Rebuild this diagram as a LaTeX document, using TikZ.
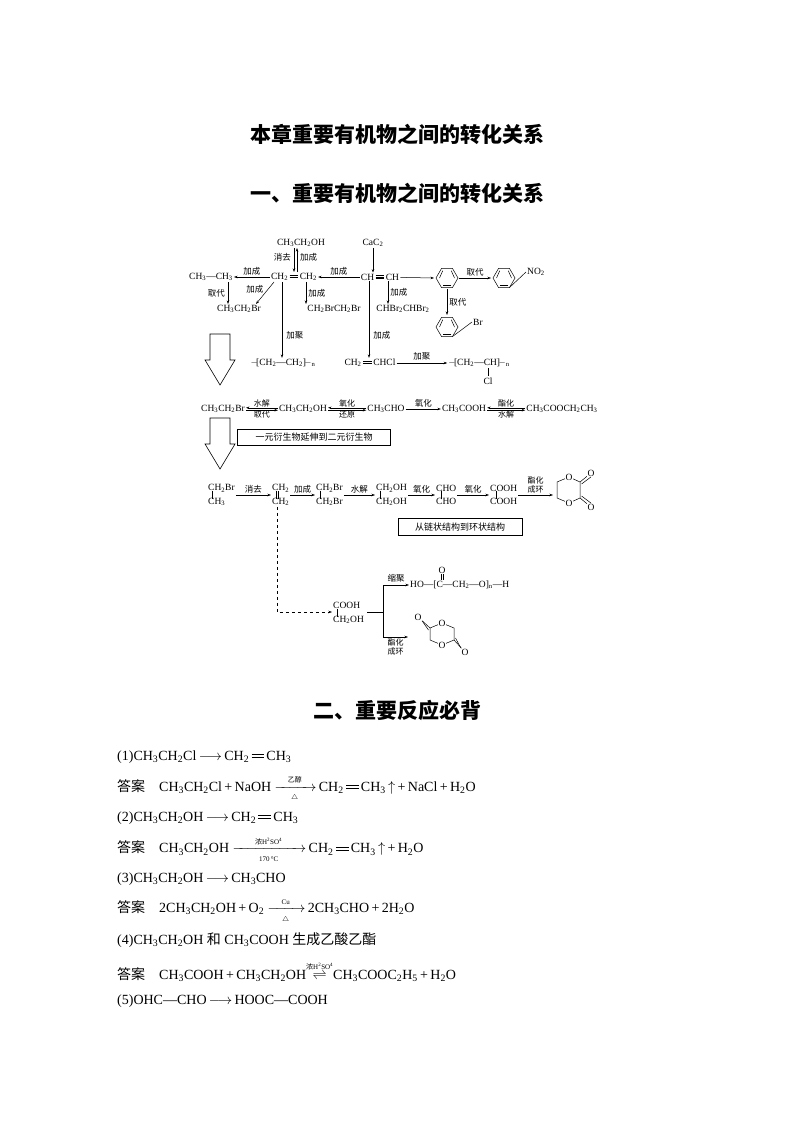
\documentclass[tikz,border=0pt]{standalone}
\usepackage{amsmath}
\usepackage{fontspec}
\setmainfont{Liberation Serif}
\newfontfamily\zhf{Noto Sans CJK SC}
\newcommand\zh[1]{{\zhf #1}}
\newcommand\Sb[1]{\textsubscript{#1}}
\newcommand\dbl{\mbox{\,\rlap{\raisebox{0.2em}{\rule{0.9em}{0.45pt}}}\raisebox{0.4em}{\rule{0.9em}{0.45pt}}\,}}
\newcommand\tpl{\mbox{\,\rlap{\raisebox{0.16em}{\rule{0.9em}{0.4pt}}}\rlap{\raisebox{0.32em}{\rule{0.9em}{0.4pt}}}\raisebox{0.48em}{\rule{0.9em}{0.4pt}}\,}}
\newcommand\rx[3]{\ensuremath{\xrightarrow[{\makebox[#3]{\scriptsize #2}}]{{\makebox[#3]{\scriptsize #1}}}}}
\usetikzlibrary{arrows.meta,calc}
\begin{document}
\begin{tikzpicture}[x=1pt,y=-1pt,
  ch/.style={inner sep=1pt,font=\fontsize{9.5}{10.5}\selectfont},
  lab/.style={inner sep=1pt,font=\fontsize{8.5}{9}\selectfont\zhf},
  arr/.style={-{Stealth[length=3.5pt,width=2.5pt]},line width=0.5pt},
  ln/.style={line width=0.5pt},
  txt/.style={anchor=west,inner sep=0pt,font=\fontsize{14}{16}\selectfont},
  ttl/.style={inner sep=0pt,font=\fontsize{21}{24}\selectfont\zhf\bfseries},
  hollow/.style={draw,line width=0.6pt,fill=white}]
\useasboundingbox (0,0) rectangle (794,1123);
% titles
\node[ttl] (t1) at (397,134) {本章重要有机物之间的转化关系};
\node[ttl] (t2) at (397,193) {一、重要有机物之间的转化关系};
\node[ttl] (t3) at (397,710) {二、重要反应必背};

% ---------- top block ----------
\node[ch] (etoh) at (301,243) {CH\Sb3CH\Sb2OH};
\node[ch] (cac2) at (373,243) {CaC\Sb2};
\node[ch] (ethane) at (211,277) {CH\Sb3—CH\Sb3};
\node[ch] (ethene) at (294,277) {CH\Sb2\dbl CH\Sb2};
\node[ch] (ethyne) at (380,277) {CH\tpl CH};
\node[ch] (etbr) at (239,309) {CH\Sb3CH\Sb2Br};
\node[ch] (dibr) at (334,309) {CH\Sb2BrCH\Sb2Br};
\node[ch] (tetbr) at (403,309) {CHBr\Sb2CHBr\Sb2};
\node[ch] (pe) at (283,363) {$-\!$[CH\Sb2—CH\Sb2]$\!-$\Sb{n}};
\node[ch] (vc) at (370,363) {CH\Sb2\dbl CHCl};
\node[ch] (pvc) at (479,363) {$-\!$[CH\Sb2—CH]$\!-$\Sb{n}};
\node[ch] (pvccl) at (488,381) {Cl};
\draw[ln] (488,368) -- (pvccl);
% benzene rings
\coordinate (bz) at (447,278);
\coordinate (nb) at (504,278);
\coordinate (bb) at (447,327);
\foreach \c in {bz,nb,bb}{
  \draw[ln] ($(\c)+(0:11)$) -- ($(\c)+(60:11)$) -- ($(\c)+(120:11)$) -- ($(\c)+(180:11)$) -- ($(\c)+(240:11)$) -- ($(\c)+(300:11)$) -- cycle;
  \draw[ln] ($(\c)+(60:8.5)$) -- ($(\c)+(120:8.5)$);
  \draw[ln] ($(\c)+(180:8.5)+(1,0)$) -- ($(\c)+(240:8.5)$);
  \draw[ln] ($(\c)+(300:8.5)$) -- ($(\c)+(0:8.5)-(1,0)$);
}
\node[ch,anchor=west] (no2) at (526,272) {NO\Sb2};
\draw[ln] ($(nb)+(60:11)$) -- (no2.west);
\node[ch,anchor=west] (br) at (472,322) {Br};
\draw[ln] ($(bb)+(60:11)$) -- (br.west);

% arrows top
\draw[arr] (cac2) -- (ethyne.north -| cac2);
\draw[arr] (etoh.south -| 294,0) -- (ethene.north -| 294,0);
\draw[arr] (ethene.north -| 297,0) -- (etoh.south -| 297,0);
\node[lab,anchor=east] at (292,257) {消去};
\node[lab,anchor=west] at (299,257) {加成};
\draw[arr] (ethene) -- node[lab,above=0.5pt]{加成} (ethane);
\draw[arr] (ethyne) -- node[lab,above=0.5pt]{加成} (ethene);
\draw[arr] (ethyne) -- ($(bz)+(-13,0)$);
\draw[arr] ($(bz)+(12,0)$) -- node[lab,above=0.5pt]{取代} ($(nb)+(-13,0)$);
\draw[arr] ($(bz)+(0,11)$) -- node[lab,right=1pt]{取代} ($(bb)+(0,-12)$);
\draw[arr] (ethane.south -| 228,0) -- node[lab,left=2pt]{取代} (etbr.north -| 228,0);
\draw[arr] (ethene.south -| 274,0) -- node[lab,left=3pt,pos=0.35]{加成} (etbr.north -| 256,0);
\draw[arr] (ethene.south -| 306,0) -- node[lab,right=1pt]{加成} (dibr.north -| 306,0);
\draw[arr] (ethyne.south -| 388,0) -- node[lab,right=1pt]{加成} (tetbr.north -| 388,0);
\draw[arr] (ethene.south -| 282,0) -- node[lab,right=3pt,pos=0.7]{加聚} (pe.north -| 282,0);
\draw[arr] (ethyne.south -| 369,0) -- node[lab,right=3pt,pos=0.7]{加成} (vc.north -| 369,0);
\draw[arr] (vc) -- node[lab,above=1pt]{加聚} (pvc);

% hollow arrows
\draw[hollow] (210,334) -- (230,334) -- (230,360) -- (235,360) -- (220,385) -- (205,360) -- (210,360) -- cycle;
\draw[hollow] (210,418) -- (230,418) -- (230,444) -- (235,444) -- (220,469) -- (205,444) -- (210,444) -- cycle;

% row 2
\node[ch] (r1) at (223,409) {CH\Sb3CH\Sb2Br};
\node[ch] (r2) at (303,409) {CH\Sb3CH\Sb2OH};
\node[ch] (r3) at (386,409) {CH\Sb3CHO};
\node[ch] (r4) at (464,409) {CH\Sb3COOH};
\node[ch] (r5) at (562,409) {CH\Sb3COOCH\Sb2CH\Sb3};
\foreach \a/\b/\u/\d in {r1/r2/水解/取代, r2/r3/氧化/还原, r4/r5/酯化/水解}{
  \draw[arr] ([yshift=-1.2]\a.east) -- node[lab,above=1.5pt,font=\fontsize{8}{8.5}\selectfont\zhf]{\u} ([yshift=-1.2]\b.west);
  \draw[arr] ([yshift=1.2]\b.west) -- node[lab,below=1.5pt,font=\fontsize{8}{8.5}\selectfont\zhf]{\d} ([yshift=1.2]\a.east);
}
\draw[arr] (r3) -- node[lab,above=1pt]{氧化} (r4);
\node[draw,line width=0.5pt,lab,font=\fontsize{9}{10}\selectfont\zhf,minimum width=153pt,minimum height=16pt] (box1) at (314,437) {一元衍生物延伸到二元衍生物};

% row 3
\node[ch,anchor=west,align=left] (s1) at (207,495) {CH\Sb2Br\\[3pt]CH\Sb3};
\node[ch,anchor=west,align=left] (s2) at (271,495) {CH\Sb2\\[3pt]CH\Sb2};
\node[ch,anchor=west,align=left] (s3) at (315,495) {CH\Sb2Br\\[3pt]CH\Sb2Br};
\node[ch,anchor=west,align=left] (s4) at (375,495) {CH\Sb2OH\\[3pt]CH\Sb2OH};
\node[ch,anchor=west,align=left] (s5) at (435,495) {CHO\\[3pt]CHO};
\node[ch,anchor=west,align=left] (s6) at (489,495) {COOH\\[3pt]COOH};
\draw[ln] (212,491) -- (212,499);
\draw[ln] (276,491) -- (276,499); \draw[ln] (278,491) -- (278,499);
\draw[ln] (320,491) -- (320,499);
\draw[ln] (380,491) -- (380,499);
\draw[ln] (441,491) -- (441,499);
\draw[ln] (496,491) -- (496,499);
\draw[arr] (s1) -- node[lab,above=1pt]{消去} (s2);
\draw[arr] (s2) -- node[lab,above=1pt]{加成} (s3);
\draw[arr] (s3) -- node[lab,above=1pt]{水解} (s4);
\draw[arr] (s4) -- node[lab,above=1pt]{氧化} (s5);
\draw[arr] (s5) -- node[lab,above=1pt]{氧化} (s6);
% ring 1
\node[ch,inner sep=0.5pt] (o1) at (569,477) {O};
\node[ch,inner sep=0.5pt] (o2) at (569,503) {O};
\node[ch,inner sep=0.5pt] (o3) at (591,473) {O};
\node[ch,inner sep=0.5pt] (o4) at (591,507) {O};
\coordinate (ring1in) at (553,495);
\draw[ln] (o1) -- (557,482) -- (557,498) -- (o2) -- (580,498) -- (580,482) -- (o1);
\draw[ln] (580,482) -- (o3); \draw[ln] (581.5,484) -- (o3.south);
\draw[ln] (580,498) -- (o4); \draw[ln] (581.5,496) -- (o4.north);
\draw[arr] (s6) -- node[lab,above=1pt,align=center,font=\fontsize{8}{8.5}\selectfont\zhf]{酯化\\成环} (ring1in);
\node[draw,line width=0.5pt,lab,font=\fontsize{9}{10}\selectfont\zhf,minimum width=124pt,minimum height=17pt] (box2) at (460,527) {从链状结构到环状结构};

% lower branch
\node[ch,anchor=west,align=left] (g) at (332,613) {COOH\\[3pt]CH\Sb2OH};
\draw[ln] (337,609) -- (337,617);
\draw[arr,dashed] (s2.south -| 277,0) -- (277,612) -- (g.west |- 0,612);
\coordinate (fork) at (383,612);
\draw[ln] (367,612) -- (fork);
\node[ch,anchor=west] (pga) at (409,585) {HO—[C—CH\Sb2—O]\Sb{n}—H};
\node[ch,inner sep=0.5pt] (pgo) at (442,570) {O};
\draw[ln] (441,574) -- (441,580); \draw[ln] (443,574) -- (443,580);
\draw[arr] (fork) |- node[lab,above=1pt,pos=0.75]{缩聚} (pga.west);
% ring 2
\node[ch,inner sep=0.5pt] (q1) at (442,623) {O};
\node[ch,inner sep=0.5pt] (q2) at (442,645) {O};
\node[ch,inner sep=0.5pt] (q3) at (418,617) {O};
\node[ch,inner sep=0.5pt] (q4) at (465,652) {O};
\draw[ln] (q1) -- (454,628) -- (454,640) -- (q2) -- (430,640) -- (430,628) -- (q1);
\draw[ln] (430,628) -- (q3); \draw[ln] (428.5,630) -- (q3.south east);
\draw[ln] (454,640) -- (q4); \draw[ln] (455.5,638) -- (q4.north west);
\coordinate (r2in) at (408,637);
\draw[arr] (fork) |- node[lab,below=1pt,pos=0.75,align=center,font=\fontsize{8}{8.5}\selectfont\zhf]{酯化\\成环} (r2in);

% ---------- reactions ----------
\node[txt] (l1) at (117,757) {(1)CH\Sb3CH\Sb2Cl\,$\longrightarrow$\,CH\Sb2\dbl CH\Sb3};
\node[txt] (l2) at (117,789) {\zh{答案}\quad CH\Sb3CH\Sb2Cl\,+\,NaOH \rx{\zh{乙醇}}{$\triangle$}{34pt}\,CH\Sb2\dbl CH\Sb3\,$\uparrow$\,+\,NaCl\,+\,H\Sb2O};
\node[txt] (l3) at (117,818) {(2)CH\Sb3CH\Sb2OH\,$\longrightarrow$\,CH\Sb2\dbl CH\Sb3};
\node[txt] (l4) at (117,850) {\zh{答案}\quad CH\Sb3CH\Sb2OH \rx{\zh{浓}H\textsuperscript{2}SO\textsuperscript{4}}{170\,°C}{66pt}\,CH\Sb2\dbl CH\Sb3\,$\uparrow$\,+\,H\Sb2O};
\node[txt] (l5) at (117,879) {(3)CH\Sb3CH\Sb2OH\,$\longrightarrow$\,CH\Sb3CHO};
\node[txt] (l6) at (117,911) {\zh{答案}\quad 2CH\Sb3CH\Sb2OH\,+\,O\Sb2 \rx{Cu}{$\triangle$}{30pt}\,2CH\Sb3CHO\,+\,2H\Sb2O};
\node[txt] (l7) at (117,940) {(4)CH\Sb3CH\Sb2OH \zh{和} CH\Sb3COOH \zh{生成乙酸乙酯}};
\node[txt] (l8) at (117,972) {\zh{答案}\quad CH\Sb3COOH\,+\,CH\Sb3CH\Sb2OH$\overset{\text{\scriptsize\zh{浓}H\textsuperscript{2}SO\textsuperscript{4}}}{\rightleftharpoons}$CH\Sb3COOC\Sb2H\Sb5\,+\,H\Sb2O};
\node[txt] (l9) at (117,1001) {(5)OHC—CHO\,$\longrightarrow$\,HOOC—COOH};
\end{tikzpicture}
\end{document}
